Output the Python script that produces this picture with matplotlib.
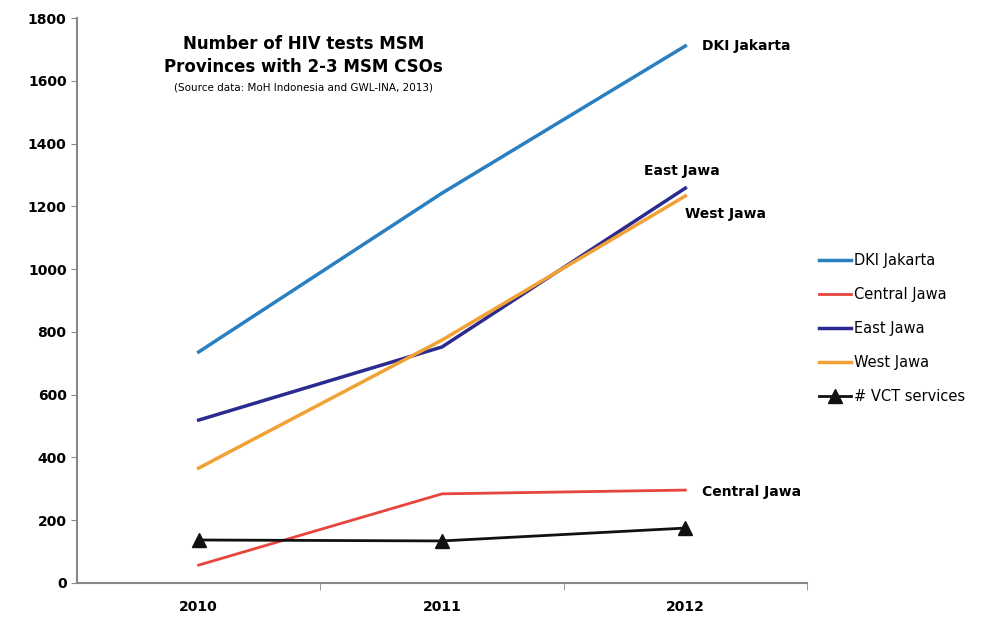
import matplotlib.pyplot as plt

years = ['2010', '2011', '2012']
dki_jakarta = [736, 1242, 1711]
central_jawa = [57, 284, 296]
east_jawa = [519, 752, 1258]
west_jawa = [366, 774, 1233]
vct_services = [137, 134, 175]

fig = plt.figure(figsize=(9.93, 6.18), dpi=100)
ax = fig.add_axes([77 / 993, 1 - 583 / 618, 730 / 993, 565 / 618])

x = range(len(years))
ax.plot(x, dki_jakarta, color='#2a7fc1', lw=2.5, label='DKI Jakarta')
ax.plot(x, central_jawa, color='#e8453c', lw=2, label='Central Jawa')
ax.plot(x, east_jawa, color='#2b2b8f', lw=2.5, label='East Jawa')
ax.plot(x, west_jawa, color='#f2a134', lw=2.5, label='West Jawa')
ax.plot(x, vct_services, color='#111111', lw=2, marker='^', ms=10,
        label='# VCT services')

ax.set_xlim(-0.5, 2.5)
ax.set_ylim(0, 1800)
ax.set_yticks(range(0, 1801, 200))
ax.set_xticks(list(x))
ax.set_xticklabels(years, fontweight='bold', fontsize=10)
ax.set_xticks([0.5, 1.5, 2.5], minor=True)
ax.tick_params(axis='x', which='major', length=0, pad=12)
ax.tick_params(axis='x', which='minor', length=5, color='#888888')
ax.tick_params(axis='y', length=4, color='#888888')
for lab in ax.get_yticklabels():
    lab.set_fontweight('bold')
    lab.set_fontsize(10)
for s in ['top', 'right']:
    ax.spines[s].set_visible(False)
for s in ['left', 'bottom']:
    ax.spines[s].set_color('#888888')
    ax.spines[s].set_linewidth(1.5)

# title block
ax.text(0.31, 0.945, 'Number of HIV tests MSM', transform=ax.transAxes,
        ha='center', fontsize=12, fontweight='bold')
ax.text(0.31, 0.905, 'Provinces with 2-3 MSM CSOs', transform=ax.transAxes,
        ha='center', fontsize=12, fontweight='bold')
ax.text(0.31, 0.872, '(Source data: MoH Indonesia and GWL-INA, 2013)',
        transform=ax.transAxes, ha='center', fontsize=7.5)

# end labels
ax.text(2.07, dki_jakarta[2], 'DKI Jakarta', fontsize=10, fontweight='bold', va='center')
ax.text(1.83, 1290, 'East Jawa', fontsize=10, fontweight='bold', va='bottom')
ax.text(2.0, 1175, 'West Jawa', fontsize=10, fontweight='bold', va='center')
ax.text(2.07, 290, 'Central Jawa', fontsize=10, fontweight='bold', va='center')

leg = fig.legend(loc='upper left', bbox_to_anchor=(806 / 993, 1 - 240 / 618),
                 frameon=False, fontsize=10.5, handlelength=2.2,
                 handletextpad=0.2, labelspacing=1.3)

fig.savefig('out.png', dpi=100)
